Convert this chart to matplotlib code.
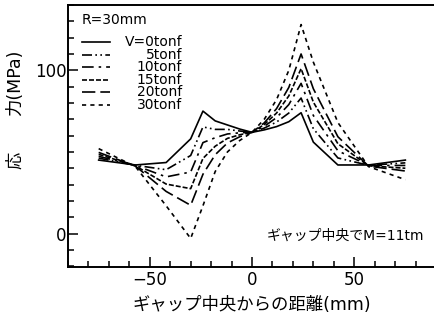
import matplotlib
matplotlib.use("Agg")
import matplotlib.pyplot as plt
from matplotlib.ticker import MultipleLocator

plt.rcParams['font.family'] = ['DejaVu Sans', 'Noto Sans CJK JP']

# distance from gap centre (mm)
dist = [-75, -57, -42, -30, -24, -18, -12, -6, 0, 6, 12, 18, 24, 30, 42, 57, 75]

# stress (MPa) for each shear load
v0 = [45, 42, 43.5, 58, 75, 69, 66.5, 64, 62, 63.5, 65.5, 68.5, 74, 56, 42, 42, 45]
v5 = [46.2, 41.8, 39.1, 47.8, 65.3, 63.8, 63.8, 62.8, 62, 64.6, 68.3, 73.8, 83, 64.2, 46.3, 41.8, 43.3]
v10 = [47.3, 41.7, 34.7, 37.7, 55.7, 58.7, 61, 61.7, 62, 65.7, 71, 79, 92, 72.3, 50.7, 41.7, 41.7]
v15 = [48.5, 41.5, 30.3, 27.5, 46, 53.5, 58.3, 60.5, 62, 66.8, 73.8, 84.3, 101, 80.5, 55, 41.5, 40]
v20 = [49.7, 41.3, 25.8, 17.3, 36.3, 48.3, 55.5, 59.3, 62, 67.8, 76.5, 89.5, 110, 88.7, 59.3, 41.3, 38.3]
v30 = [52, 41, 17, -3, 17, 38, 50, 57, 62, 70, 82, 100, 128, 105, 68, 41, 33]

labels = ['V=0tonf', '5tonf', '10tonf', '15tonf', '20tonf', '30tonf']
styles = ['-', (0, (6, 2, 1, 2, 1, 2)), (0, (7, 3, 1.5, 3)), (0, (3, 1.2)),
          (0, (8, 3)), (0, (2.5, 2.5))]

fig = plt.figure(figsize=(4.35, 3.27), dpi=100)
ax = fig.add_axes([68 / 435, 1 - 267 / 327, 367 / 435, 262 / 327])

for ys, ls in zip([v0, v5, v10, v15, v20, v30], styles):
    ax.plot(dist, ys, color='black', linestyle=ls, linewidth=1.2)

ax.set_xlim(-90, 89.5)
ax.set_ylim(-20.5, 140)
ax.spines['right'].set_visible(False)
for s in ['left', 'bottom', 'top']:
    ax.spines[s].set_linewidth(1.4)

ax.xaxis.set_major_locator(MultipleLocator(50))
ax.xaxis.set_minor_locator(MultipleLocator(10))
ax.yaxis.set_major_locator(MultipleLocator(100))
ax.yaxis.set_minor_locator(MultipleLocator(10))
ax.tick_params(which='both', direction='in', top=False, right=False, width=1.1)
ax.tick_params(which='major', length=7, labelsize=12)
ax.tick_params(axis='x', which='major', pad=3)
ax.tick_params(axis='y', which='major', pad=1)
ax.tick_params(which='minor', length=4.5)

# axis titles
fig.text(252 / 435, 1 - 305 / 327, 'ギャップ中央からの距離(mm)', ha='center', va='center', fontsize=12.5)
fig.text(15 / 435, 1 - 83 / 327, '力(MPa)', rotation=90, ha='center', va='center', fontsize=12.5)
fig.text(15 / 435, 1 - 160 / 327, '応', rotation=90, ha='center', va='center', fontsize=12.5)

ax.text(0.97, 0.118, 'ギャップ中央でM=11tm', transform=ax.transAxes,
        ha='right', va='center', fontsize=10)

# legend drawn by hand
ax.text(0.038, 0.943, 'R=30mm', transform=ax.transAxes, ha='left', va='center', fontsize=10)
for i, (lab, ls) in enumerate(zip(labels, styles)):
    yy = (267 - (42 + 12.6 * i)) / 262
    ax.plot([0.038, 0.114], [yy, yy], transform=ax.transAxes, color='black',
            linestyle=ls, linewidth=1.2)
    ax.text(0.311, yy, lab, transform=ax.transAxes, ha='right', va='center', fontsize=10)

fig.savefig('out.png', dpi=100)
